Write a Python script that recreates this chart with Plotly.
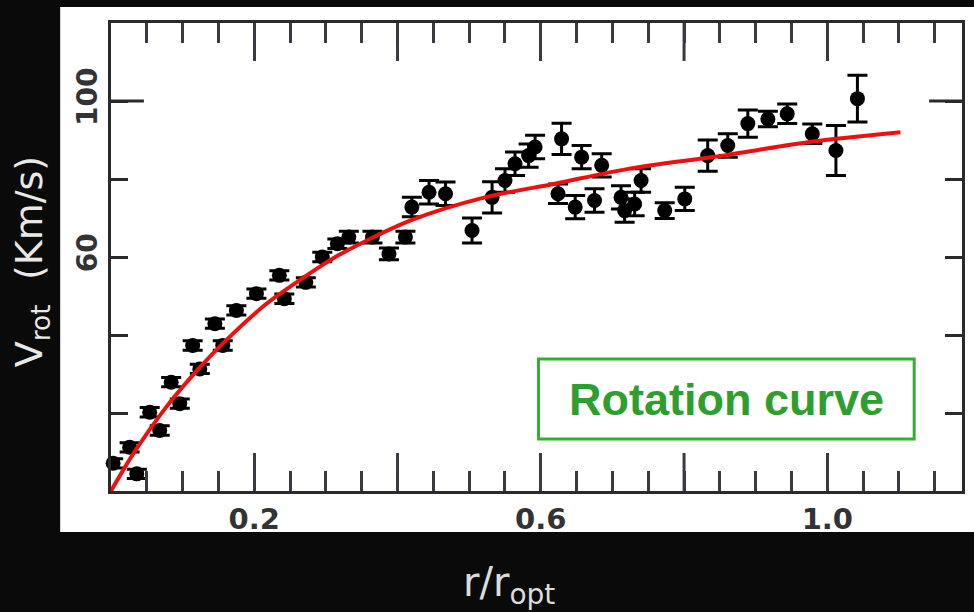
import plotly.graph_objects as go

# ---- data ----
r_obs = [0.003, 0.026, 0.036, 0.054, 0.068, 0.084, 0.096, 0.114, 0.124, 0.145,
         0.156, 0.175, 0.203, 0.235, 0.242, 0.272, 0.295, 0.316, 0.332, 0.365,
         0.388, 0.411, 0.420, 0.444, 0.467, 0.504, 0.532, 0.550, 0.564, 0.583,
         0.592, 0.624, 0.629, 0.648, 0.657, 0.675, 0.685, 0.712, 0.717, 0.731,
         0.740, 0.773, 0.801, 0.833, 0.861, 0.889, 0.917, 0.944, 0.979, 1.012,
         1.042]
v_obs = [7.1, 11.2, 4.4, 20.2, 15.5, 27.9, 22.4, 37.3, 31.3, 42.9,
         37.3, 46.3, 50.6, 55.3, 49.3, 53.5, 60.0, 63.4, 65.1, 65.1,
         60.8, 65.1, 72.8, 76.6, 76.2, 66.8, 75.3, 79.6, 83.9, 86.0,
         88.2, 76.2, 90.3, 72.8, 85.6, 74.5, 83.5, 75.3, 71.9, 73.6,
         79.6, 71.9, 74.9, 86.0, 88.6, 94.2, 95.4, 96.7, 91.6, 87.3,
         100.6]
v_err = [1.2, 1.2, 1.2, 1.2, 1.2, 1.2, 1.2, 1.2, 1.2, 1.2,
         1.2, 1.2, 1.2, 1.2, 1.2, 1.2, 1.2, 1.2, 1.5, 1.5,
         1.5, 1.5, 2.5, 3.0, 3.0, 3.2, 4.0, 3.0, 3.0, 3.0,
         3.0, 2.5, 4.0, 3.0, 3.0, 3.0, 3.0, 3.0, 3.0, 3.0,
         3.0, 2.0, 3.0, 4.0, 3.0, 3.5, 2.0, 2.5, 2.5, 6.4,
         6.0]

r_fit = [0.0, 0.031, 0.077, 0.124, 0.170, 0.217, 0.263, 0.318, 0.420, 0.522,
         0.620, 0.722, 0.850, 0.980, 1.102]
v_fit = [0.0, 9.5, 21.5, 31.7, 40.3, 48.0, 54.0, 60.5, 69.5, 75.3,
         78.8, 82.6, 85.9, 89.6, 92.0]

x_label_vals = [0.2, 0.6, 1.0]
x_label_text = ["0.2", "0.6", "1.0"]
x_long_unlabelled = [0.4, 0.8]
y_label_vals = [60, 100]
y_label_text = ["60", "100"]
y_minor_vals = [20, 40, 80]

W, H = 974, 612
L, R, T, B = 111, 9, 23, 121
pw, ph = W - L - R, H - T - B


def px_x(p):
    return (p - L) / pw


def px_y(p):
    return (H - B - p) / ph


fig = go.Figure()

fig.add_trace(go.Scatter(
    x=r_obs, y=v_obs, mode="markers",
    marker=dict(color="black", size=15),
    error_y=dict(type="data", array=v_err, color="black", thickness=3, width=10),
    showlegend=False, cliponaxis=False,
))
fig.add_trace(go.Scatter(
    x=r_fit, y=v_fit, mode="lines",
    line=dict(color="#ee1010", width=4, shape="spline", smoothing=0.8),
    showlegend=False,
))

axis_col = "#2a2a2a"
tick_col = "#3a3a44"

fig.update_xaxes(
    range=[0, 1.188], showgrid=False, zeroline=False,
    showline=True, linecolor=axis_col, linewidth=3, mirror="ticks",
    ticks="inside", tickvals=x_label_vals, ticktext=x_label_text,
    ticklen=38, tickwidth=3, tickcolor=tick_col,
    minor=dict(dtick=0.05, tick0=0, ticks="inside", ticklen=20, tickwidth=3, tickcolor=tick_col),
    tickfont=dict(family="DejaVu Sans", size=29, color="#333333", weight="bold"),
)
fig.update_yaxes(
    range=[0, 120], showgrid=False, zeroline=False,
    showline=True, linecolor=axis_col, linewidth=3, mirror="ticks",
    ticks="inside", tickvals=y_label_vals, ticktext=y_label_text,
    ticklen=17, tickwidth=3, tickcolor=axis_col,
    minor=dict(tickmode="array", tickvals=y_minor_vals, ticks="inside", ticklen=17,
               tickwidth=3, tickcolor=axis_col),
    tickangle=-90,
    tickfont=dict(family="DejaVu Sans", size=28, color="#333333", weight="bold"),
)

shapes = [
    # white panel
    dict(type="rect", xref="paper", yref="paper",
         x0=px_x(60), x1=px_x(990), y0=px_y(532), y1=px_y(7),
         fillcolor="white", line=dict(width=0), layer="below"),
    # long y tick at 100 (left & right)
    dict(type="line", xref="paper", yref="y", x0=0, x1=px_x(L + 33), y0=100, y1=100,
         line=dict(color=axis_col, width=3)),
    dict(type="line", xref="paper", yref="y", x0=1, x1=px_x(W - R - 33), y0=100, y1=100,
         line=dict(color=axis_col, width=3)),
    # label box
    dict(type="rect", xref="paper", yref="paper",
         x0=px_x(540), x1=px_x(917), y0=px_y(439), y1=px_y(359),
         line=dict(color="#33b033", width=3), fillcolor="rgba(0,0,0,0)"),
]
# long unlabelled x ticks (bottom and top)
for xv in x_long_unlabelled:
    shapes.append(dict(type="line", xref="x", yref="paper", x0=xv, x1=xv,
                       y0=0, y1=38 / ph, line=dict(color=tick_col, width=3)))
    shapes.append(dict(type="line", xref="x", yref="paper", x0=xv, x1=xv,
                       y0=1, y1=1 - 38 / ph, line=dict(color=tick_col, width=3)))

annotations = [
    dict(text="<b>Rotation curve</b>", xref="paper", yref="paper",
         x=px_x(729), y=px_y(399), xanchor="center", yanchor="middle", showarrow=False,
         font=dict(family="Liberation Sans", size=45, color="#2e9e2e")),
    dict(text="V<sub>rot</sub>  (Km/s)", xref="paper", yref="paper",
         x=px_x(31), y=px_y(262), xanchor="center", yanchor="middle",
         textangle=-90, showarrow=False,
         font=dict(family="DejaVu Sans", size=38, color="#e8e8e8")),
    dict(text="r/r<sub>opt</sub>", xref="paper", yref="paper",
         x=px_x(510), y=px_y(585), xanchor="center", yanchor="middle", showarrow=False,
         font=dict(family="DejaVu Sans", size=40, color="#dcdcdc")),
]

fig.update_layout(
    width=W, height=H,
    margin=dict(l=L, r=R, t=T, b=B),
    paper_bgcolor="#0a0a0a", plot_bgcolor="white",
    shapes=shapes, annotations=annotations,
    font=dict(family="DejaVu Sans"),
)

fig.write_html(
    "out.html",
    config={"displayModeBar": False},
    post_script="document.body.style.margin='0';document.body.style.background='#0a0a0a';",
)
